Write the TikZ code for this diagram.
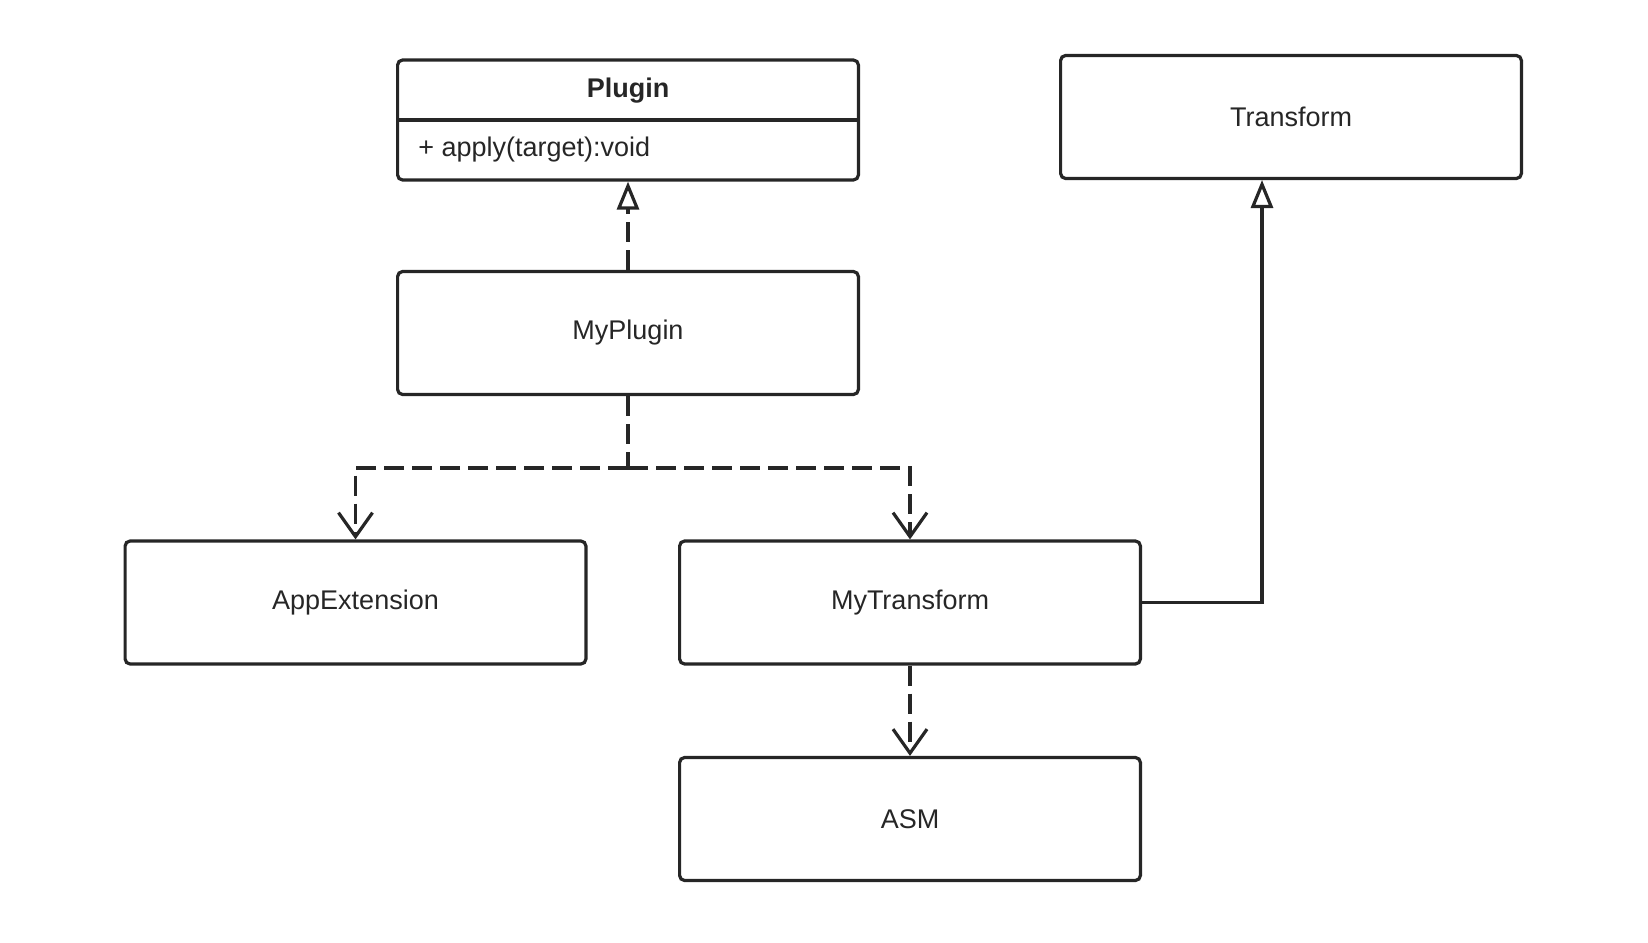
\documentclass[tikz,border=0pt]{standalone}
\usepackage{fontspec}
\setmainfont{Liberation Sans}
\usetikzlibrary{math,arrows.meta}

\begin{document}
\begin{tikzpicture}[x=0.5pt, y=-0.5pt,
            box/.style={draw=black!85, line width=1.6pt, rounded corners=2.5pt, minimum width=230.4pt, minimum height=61.5pt, font=\fontsize{13.5}{16}\selectfont, text=black!85},
            lbl/.style={font=\fontsize{13.5}{16}\selectfont, text=black!85, inner sep=0pt},
            wire/.style={draw=black!85, line width=1.6pt},
            usedep/.style={wire, dash pattern=on 10pt off 4pt, -{Straight Barb[length=12pt,width=17pt]}},
            realize/.style={wire, dash pattern=on 10pt off 4pt, -{Triangle[open,length=14pt,width=11pt]}},
            inherit/.style={wire, -{Triangle[open,length=14pt,width=11pt]}}]
            \useasboundingbox (0,0) rectangle (1648,942);
            \tikzmath{\colL = 355.5; \colM = 628; \colR = 910; \rowA = 602.5; \spl = 468; \bend = 1262;}

            % class with operation
            \node[box, minimum height=60pt] (plugin) at (\colM, 120) {};
            \draw[wire] (plugin.west) -- (plugin.east);
            \node[lbl, font=\fontsize{13.5}{16}\selectfont\bfseries] (plugintitle) at (\colM, 91) {Plugin};
            \node[lbl, anchor=west] (pluginop) at (418, 150) {+ apply(target):void};

            \node[box] (transform) at (1291, 117) {Transform};
            \node[box] (myplugin) at (\colM, 333) {MyPlugin};
            \node[box] (appext) at (\colL, \rowA) {AppExtension};
            \node[box] (mytransform) at (\colR, \rowA) {MyTransform};
            \node[box] (asm) at (\colR, 819) {ASM};

            % dependencies
            \draw[realize] (myplugin.north) -- (plugin.south);
            \coordinate (split) at (\colM, \spl);
            \draw[wire, dash pattern=on 10pt off 4pt] (myplugin.south) -- (split);
            \draw[usedep] (split) -| (appext.north);
            \draw[usedep] (split) -| (mytransform.north);
            \draw[usedep] (mytransform.south) -- (asm.north);

            \coordinate (transin) at (\bend, 180);
            \draw[inherit] (mytransform.east) -| (transin);
        \end{tikzpicture}
\end{document}
